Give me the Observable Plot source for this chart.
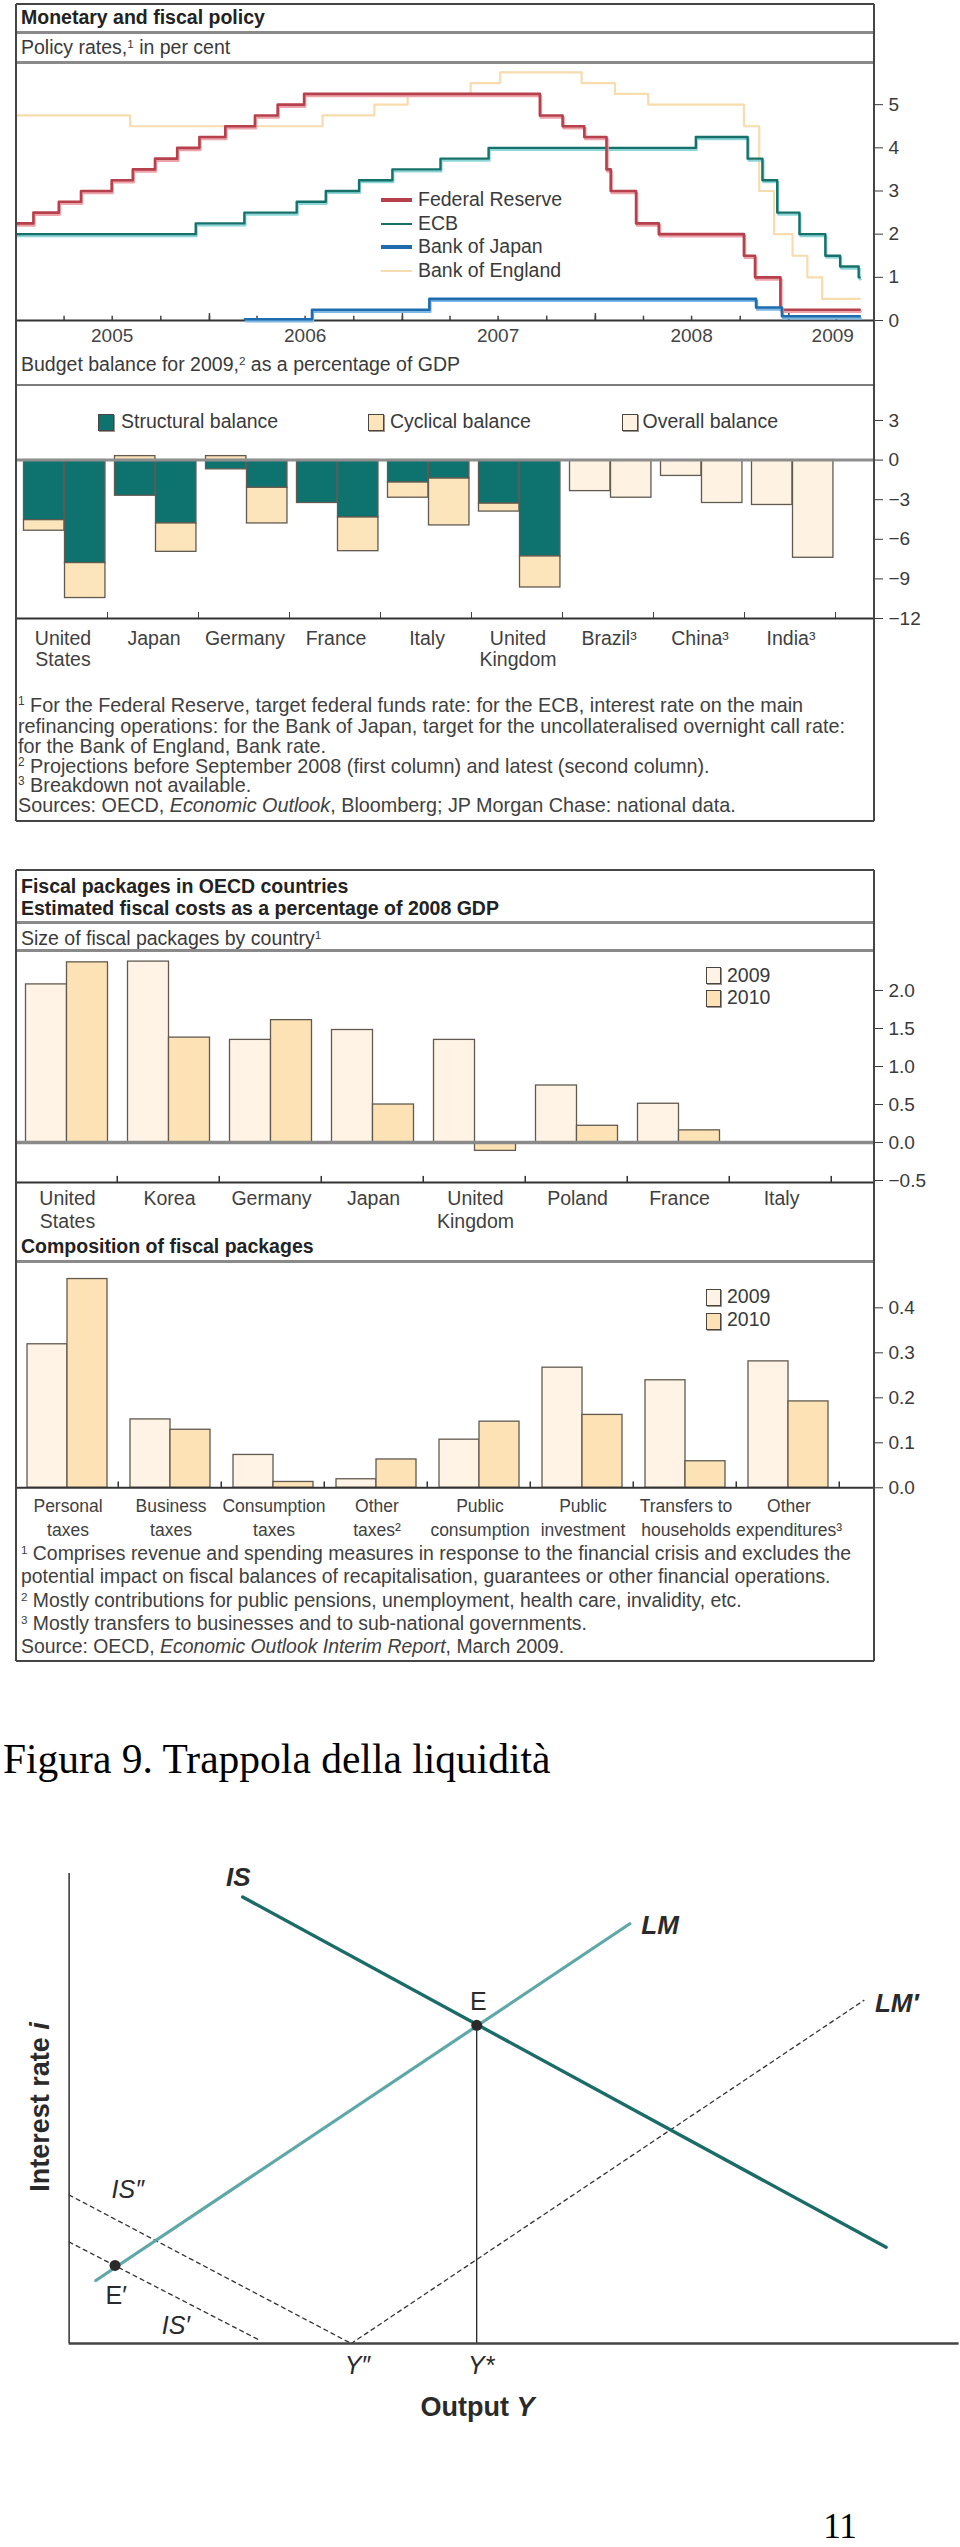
<!DOCTYPE html>
<html><head><meta charset="utf-8">
<script src="https://cdn.jsdelivr.net/npm/d3@7"></script>
<script src="https://cdn.jsdelivr.net/npm/@observablehq/plot@0.6"></script>
<style>
body{margin:0;background:#fff;}
#root{position:relative;width:960px;height:2547px;overflow:hidden;font-family:"Liberation Sans",Arial,sans-serif;color:#3a3a3a;}
.abs{position:absolute;white-space:nowrap;}
.ln{position:absolute;}
</style></head><body><div id="root"></div>
<script>
// ================= DATA =================
// Policy rates (step changes), per cent
const fedDates = ["2005-01-01","2005-02-02","2005-03-22","2005-05-03","2005-06-30","2005-08-09","2005-09-20","2005-11-01","2005-12-13","2006-01-31","2006-03-28","2006-05-10","2006-06-29","2007-09-18","2007-10-31","2007-12-11","2008-01-22","2008-01-30","2008-03-18","2008-04-30","2008-10-08","2008-10-29","2008-12-16"];
const fedRates = [2.25,2.5,2.75,3,3.25,3.5,3.75,4,4.25,4.5,4.75,5,5.25,4.75,4.5,4.25,3.5,3,2.25,2,1.5,1,0.25];
const ecbDates = ["2005-01-01","2005-12-06","2006-03-08","2006-06-15","2006-08-09","2006-10-11","2006-12-13","2007-03-14","2007-06-13","2008-07-09","2008-10-15","2008-11-12","2008-12-10","2009-01-21","2009-03-11","2009-04-08","2009-05-13"];
const ecbRates = [2,2.25,2.5,2.75,3,3.25,3.5,3.75,4,4.25,3.75,3.25,2.5,2,1.5,1.25,1];
const bojDates = ["2006-03-09","2006-07-14","2007-02-21","2008-10-31","2008-12-19"];
const bojRates = [0.03,0.25,0.5,0.3,0.1];
const boeDates = ["2005-01-01","2005-08-04","2006-08-03","2006-11-09","2007-01-11","2007-05-10","2007-07-05","2007-12-06","2008-02-07","2008-04-10","2008-10-08","2008-11-06","2008-12-04","2009-01-08","2009-02-05","2009-03-05"];
const boeRates = [4.75,4.5,4.75,5,5.25,5.5,5.75,5.5,5.25,5,4.5,3,2,1.5,1,0.5];
const seriesEnd = "2009-05-15";
const rateNames = ["Federal Reserve","ECB","Bank of Japan","Bank of England"];
const yearLabels = ["2005","2006","2007","2008","2009"];
const yearLabelDates = ["2005-07-01","2006-07-01","2007-07-01","2008-07-01","2009-03-25"];
const rateTicks = [0,1,2,3,4,5];

// Budget balance for 2009, % of GDP (first column / second column)
const bbCountries = ["United\nStates","Japan","Germany","France","Italy","United\nKingdom","Brazil³","China³","India³"];
const bbTypes = ["Structural balance","Cyclical balance","Overall balance"];
const structural1 = [-4.55,-2.7,-0.7,-3.25,-1.7,-3.3,null,null,null];
const cyclical1   = [-0.8,0.3,0.3,0,-1.15,-0.6,null,null,null];
const overall1    = [null,null,null,null,null,null,-2.35,-1.2,-3.4];
const structural2 = [-7.8,-4.8,-2.1,-4.35,-1.4,-7.3,null,null,null];
const cyclical2   = [-2.65,-2.15,-2.7,-2.55,-3.55,-2.35,null,null,null];
const overall2    = [null,null,null,null,null,null,-2.85,-3.25,-7.4];
const bbTicks = [3,0,-3,-6,-9,-12];

// Fiscal packages by country, % of 2008 GDP
const fpCountries = ["United\nStates","Korea","Germany","Japan","United\nKingdom","Poland","France","Italy"];
const fp2009 = [2.08,2.38,1.35,1.48,1.35,0.75,0.51,0];
const fp2010 = [2.37,1.38,1.61,0.5,-0.11,0.22,0.16,0];
const fpTicks = [-0.5,0,0.5,1,1.5,2];

// Composition of fiscal packages
const compCategories = ["Personal\ntaxes","Business\ntaxes","Consumption\ntaxes","Other\ntaxes²","Public\nconsumption","Public\ninvestment","Transfers to\nhouseholds","Other\nexpenditures³"];
const comp2009 = [0.319,0.152,0.073,0.019,0.107,0.267,0.239,0.281];
const comp2010 = [0.464,0.129,0.013,0.063,0.147,0.162,0.059,0.192];
const compTicks = [0,0.1,0.2,0.3,0.4];
const yearKeys = ["2009","2010"];

// IS-LM schematic (output 0-100, interest rate 0-100)
const isX = [19.5,91.8], isY = [95.0,20.5];
const lmX = [3.0,63.0], lmY = [13.4,89.3];
const lmPX = [31.7,89.3], lmPY = [0,73.0];
const is2X = [0,31.7], is2Y = [31.6,0];
const is1X = [0,21.5], is1Y = [21.6,0.6];
const eqNames = ["E","E′"], eqX = [45.8,5.16], eqY = [67.7,16.6];
const curveNames = ["IS","LM","LM′"], curveLX = [19.0,66.4,93.0], curveLY = [99.2,88.9,72.3];
const shiftNames = ["IS″","IS′"], shiftLX = [6.6,12.0], shiftLY = [32.6,3.8];
const pointNames = ["E","E′"], pointLX = [45.97,5.3], pointLY = [72.6,10.2];
const outNames = ["Y″","Y*"], outLX = [32.4,46.3];

// ================= HELPERS =================
const root = document.getElementById("root");
const parseDate = d3.utcParse("%Y-%m-%d");
const FONT = "'Liberation Sans', Arial, sans-serif";
const baseStyle = {background:"transparent", fontFamily: FONT, fontSize:"19px", color:"#3a3a3a", overflow:"visible"};

function addText(html, x, cy, o = {}) {
  const d = document.createElement("div");
  d.className = "abs";
  d.innerHTML = html;
  const s = d.style;
  s.left = x + "px"; s.top = cy + "px";
  s.fontSize = (o.size || 19.5) + "px";
  s.lineHeight = "1";
  s.fontWeight = o.weight || 400;
  s.color = o.color || "#3a3a3a";
  if (o.family) s.fontFamily = o.family;
  if (o.italic) s.fontStyle = "italic";
  const tx = o.anchor === "middle" ? "-50%" : o.anchor === "end" ? "-100%" : "0";
  s.transform = `translate(${tx},-50%)` + (o.rotate ? ` rotate(${o.rotate}deg)` : "");
  root.appendChild(d);
}
function box(x, y, w, h, css) {
  const d = document.createElement("div");
  d.className = "ln";
  d.style.left = x + "px"; d.style.top = y + "px";
  d.style.width = w + "px"; d.style.height = h + "px";
  Object.assign(d.style, css);
  root.appendChild(d);
}
const hLine = (y, x1, x2, w, c) => box(x1, y - w/2, x2 - x1, w, {background: c});
const vLine = (x, y1, y2, w, c) => box(x - w/2, y1, w, y2 - y1, {background: c});
function place(svg, top) {
  svg.style.position = "absolute"; svg.style.left = "0px"; svg.style.top = top + "px";
  root.appendChild(svg);
}
const SUP = "<span style='font-size:60%;position:relative;top:-0.55em'>";

// ================= PANEL A: policy rates =================
const rowsOf = (dates, rates) => dates.map((d, i) => ({date: parseDate(d), rate: rates[i]}))
  .concat([{date: parseDate(seriesEnd), rate: rates[rates.length - 1]}]);
const fedRows = rowsOf(fedDates, fedRates), ecbRows = rowsOf(ecbDates, ecbRates);
const bojRows = rowsOf(bojDates, bojRates), boeRows = rowsOf(boeDates, boeRates);
const quarterTicks = d3.utcMonth.every(3).range(parseDate("2005-04-01"), parseDate("2009-04-02"));
const yearTicks = d3.utcYear.range(parseDate("2006-01-01"), parseDate("2009-01-02"));
const stepOpts = {x: "date", y: "rate", curve: "step-after"};

const plotA = Plot.plot({
  width: 960, height: 350, marginLeft: 16, marginRight: 86, marginTop: 61, marginBottom: 30,
  style: baseStyle,
  x: {type: "utc", domain: [parseDate("2005-01-01"), parseDate("2009-06-12")], axis: null},
  y: {domain: [0, 6], axis: "right", ticks: rateTicks, tickSize: 8, tickPadding: 6, label: null, tickFormat: d3.format("d")},
  marks: [
    Plot.ruleX(quarterTicks, {x: d => d, y1: 0, y2: 0.1, stroke: "#444", strokeWidth: 1.5}),
    Plot.ruleX(yearTicks, {x: d => d, y1: 0, y2: 0.16, stroke: "#444", strokeWidth: 1.5}),
    Plot.line(boeRows, {...stepOpts, stroke: "#f8dcae", strokeWidth: 2.2}),
    Plot.line(ecbRows, {...stepOpts, stroke: "#8dd6d8", strokeWidth: 2.2, dx: 1, dy: 2}),
    Plot.line(ecbRows, {...stepOpts, stroke: "#17716b", strokeWidth: 2.4}),
    Plot.line(fedRows, {...stepOpts, stroke: "#eca3aa", strokeWidth: 2.6, dx: 1, dy: 2}),
    Plot.line(fedRows, {...stepOpts, stroke: "#b6404c", strokeWidth: 2.6}),
    Plot.ruleY([0], {stroke: "#333", strokeWidth: 2}),
    Plot.line(bojRows, {...stepOpts, stroke: "#7db8e4", strokeWidth: 2.4, dx: 1, dy: 2}),
    Plot.line(bojRows, {...stepOpts, stroke: "#1e6cae", strokeWidth: 2.6}),
    Plot.text(yearLabels, {x: (d, i) => parseDate(yearLabelDates[i]), y: 0, dy: 15, text: d => d, fontSize: 19, fill: "#444"})
  ]
});
place(plotA, 0);

// legend A
const legA = [
  {c: "#b6404c", w: 4.5}, {c: "#17716b", w: 2.2},
  {c: "#1e6cae", w: 4.5}, {c: "#f8dcae", w: 2.2}
];
[200, 224, 247, 271].forEach((cy, i) => {
  hLine(cy, 381, 412, legA[i].w, legA[i].c);
  addText(rateNames[i], 418, cy, {size: 19.5, color: "#3a3a3a"});
});

// ================= PANEL B: budget balance =================
const bbRows = [];
bbCountries.forEach((c, i) => {
  [[1, structural1, cyclical1, overall1], [2, structural2, cyclical2, overall2]].forEach(([col, s, cy, ov]) => {
    if (s[i] != null) bbRows.push({country: c, col, type: bbTypes[0], value: s[i]});
    if (cy[i] != null && cy[i] !== 0) bbRows.push({country: c, col, type: bbTypes[1], value: cy[i]});
    if (ov[i] != null) bbRows.push({country: c, col, type: bbTypes[2], value: ov[i]});
  });
});
const bbColors = ["#0e736e", "#fde5bb", "#fef3e3"];
const bbBand = (838 - 14) / bbCountries.length;
const plotB = Plot.plot({
  width: 960, height: 300, marginLeft: 16, marginRight: 86, marginTop: 15, marginBottom: 52,
  style: baseStyle,
  x: {type: "band", domain: bbCountries, range: [14, 838], padding: 0, axis: null},
  y: {domain: [-12, 5.65], axis: "right", ticks: bbTicks, tickSize: 8, tickPadding: 6, label: null, tickFormat: d3.format("d")},
  color: {domain: bbTypes, range: bbColors},
  marks: [
    Plot.barY(bbRows.filter(d => d.col === 1), {x: "country", y: "value", fill: "type", stroke: "#615a51", strokeWidth: 1.3, insetLeft: 6.5, insetRight: bbBand - 47.5}),
    Plot.barY(bbRows.filter(d => d.col === 2), {x: "country", y: "value", fill: "type", stroke: "#615a51", strokeWidth: 1.3, insetLeft: 47.5, insetRight: bbBand - 88.5}),
    Plot.ruleY([0], {stroke: "#8e8e8e", strokeWidth: 3}),
    Plot.ruleY([-12], {stroke: "#333", strokeWidth: 2}),
    Plot.barY(bbCountries, {x: d => d, y1: -12, y2: -11.55, insetLeft: bbBand - 1.5, fill: "#333"}),
    Plot.text(bbCountries, {x: d => d, y: -12, dy: 11, text: d => d, lineAnchor: "top", lineHeight: 1.1, fontSize: 19.5, fill: "#3f3f3f"})
  ]
});
place(plotB, 370);

// legend B
[[98, 121], [367.5, 390], [622, 642.5]].forEach(([sx, tx], i) => {
  box(sx, 414, 14, 15, {background: bbColors[i], border: "1px solid #4a4540", boxShadow: "1px 1px 0 #9a948c"});
  addText(bbTypes[i], tx, 422, {size: 19.5});
});

// ================= PANEL C: fiscal packages by country =================
const fpRows = fpCountries.flatMap((c, i) => [
  {country: c, year: yearKeys[0], value: fp2009[i]},
  {country: c, year: yearKeys[1], value: fp2010[i]}
]);
const yearColors = ["#fef3e4", "#fde2b5"];
const fpBand = (832 - 16) / fpCountries.length;
const fpMin = -0.526;
const plotC = Plot.plot({
  width: 960, height: 300, marginLeft: 16, marginRight: 86, marginTop: 10, marginBottom: 58,
  style: baseStyle,
  x: {type: "band", domain: fpCountries, range: [16, 832], padding: 0, axis: null},
  y: {domain: [fpMin, 2.526], axis: "right", ticks: fpTicks, tickSize: 8, tickPadding: 6, label: null, tickFormat: d3.format(".1f")},
  marks: [
    Plot.barY(fpRows.filter(d => d.year === yearKeys[0]), {x: "country", y: "value", fill: yearColors[0], stroke: "#615a51", strokeWidth: 1.3, insetLeft: 9.5, insetRight: fpBand - 50.5}),
    Plot.barY(fpRows.filter(d => d.year === yearKeys[1]), {x: "country", y: "value", fill: yearColors[1], stroke: "#615a51", strokeWidth: 1.3, insetLeft: 50.5, insetRight: 10.5}),
    Plot.ruleY([0], {stroke: "#8a8a8a", strokeWidth: 3.5}),
    Plot.ruleY([fpMin], {stroke: "#333", strokeWidth: 2}),
    Plot.barY(fpCountries, {x: d => d, y1: fpMin, y2: fpMin + 0.08, insetLeft: fpBand - 1.5, fill: "#333"}),
    Plot.text(fpCountries, {x: d => d, y: fpMin, dy: 6, text: d => d, lineAnchor: "top", lineHeight: 1.18, fontSize: 19.5, fill: "#3f3f3f"})
  ]
});
place(plotC, 940);

// ================= PANEL D: composition =================
const compRows = compCategories.flatMap((c, i) => [
  {cat: c, year: yearKeys[0], value: comp2009[i]},
  {cat: c, year: yearKeys[1], value: comp2010[i]}
]);
const compBand = (840 - 16) / compCategories.length;
const plotD = Plot.plot({
  width: 960, height: 290, marginLeft: 16, marginRight: 86, marginTop: 11, marginBottom: 52.7,
  style: baseStyle,
  x: {type: "band", domain: compCategories, range: [16, 840], padding: 0, axis: null},
  y: {domain: [0, 0.503], axis: "right", ticks: compTicks, tickSize: 8, tickPadding: 6, label: null, tickFormat: d3.format(".1f")},
  marks: [
    Plot.barY(compRows.filter(d => d.year === yearKeys[0]), {x: "cat", y: "value", fill: yearColors[0], stroke: "#615a51", strokeWidth: 1.3, insetLeft: 11, insetRight: compBand - 51}),
    Plot.barY(compRows.filter(d => d.year === yearKeys[1]), {x: "cat", y: "value", fill: yearColors[1], stroke: "#615a51", strokeWidth: 1.3, insetLeft: 51, insetRight: 12}),
    Plot.ruleY([0], {stroke: "#333", strokeWidth: 2}),
    Plot.barY(compCategories, {x: d => d, y1: 0, y2: 0.013, insetLeft: compBand - 1.5, fill: "#333"}),
    Plot.text(compCategories, {x: d => d, y: 0, dy: 8, text: d => d, lineAnchor: "top", lineHeight: 1.34, fontSize: 17.5, fill: "#3f3f3f"})
  ]
});
place(plotD, 1250);

// legends C & D
[[967, 990, 976, 998], [1289, 1313, 1297, 1320]].forEach(([s1, s2, t1, t2]) => {
  box(706, s1, 13, 15, {background: yearColors[0], border: "1px solid #4a4540", boxShadow: "1px 1px 0 #9a948c"});
  box(706, s2, 13, 15, {background: yearColors[1], border: "1px solid #4a4540", boxShadow: "1px 1px 0 #9a948c"});
  addText(yearKeys[0], 727, t1, {size: 19.5});
  addText(yearKeys[1], 727, t2, {size: 19.5});
});

// ================= FRAMES & TEXT (OECD panels) =================
const frameC = "#454545", sepC = "#8a8a8a";
hLine(4, 16, 874, 1.6, frameC);
hLine(32, 16, 874, 3, sepC);
hLine(62, 16, 874, 3, sepC);
hLine(385, 16, 874, 2.6, "#7c7c7c");
hLine(821, 16, 874, 1.6, frameC);
vLine(16, 4, 821, 1.8, frameC);
vLine(874, 4, 821, 1.8, frameC);

hLine(870, 16, 874, 1.6, frameC);
hLine(922.7, 16, 874, 3, sepC);
hLine(950, 16, 874, 3, sepC);
hLine(1261, 16, 874, 3, sepC);
hLine(1661, 16, 874, 1.6, frameC);
vLine(16, 870, 1661, 1.8, frameC);
vLine(874, 870, 1661, 1.8, frameC);

addText("Monetary and fiscal policy", 21, 18, {size: 19.5, weight: 700, color: "#222"});
addText("Policy rates," + SUP + "1</span> in per cent", 21, 48, {size: 19.5});
addText("Budget balance for 2009," + SUP + "2</span> as a percentage of GDP", 21, 365, {size: 19.5});

const fnB = [
  SUP + "1</span> For the Federal Reserve, target federal funds rate: for the ECB, interest rate on the main",
  "refinancing operations: for the Bank of Japan, target for the uncollateralised overnight call rate:",
  "for the Bank of England, Bank rate.",
  SUP + "2</span> Projections before September 2008 (first column) and latest (second column).",
  SUP + "3</span> Breakdown not available.",
  "Sources: OECD, <i>Economic Outlook</i>, Bloomberg; JP Morgan Chase: national data."
];
[706, 727, 747, 767, 786, 806].forEach((cy, i) => addText(fnB[i], 18, cy, {size: 19.8, color: "#404040"}));

addText("Fiscal packages in OECD countries", 21, 887, {size: 19.5, weight: 700, color: "#222"});
addText("Estimated fiscal costs as a percentage of 2008 GDP", 21, 909, {size: 19.5, weight: 700, color: "#222"});
addText("Size of fiscal packages by country" + SUP + "1</span>", 21, 939, {size: 19.5});
addText("Composition of fiscal packages", 21, 1247, {size: 19.5, weight: 700, color: "#222"});

const fnD = [
  SUP + "1</span> Comprises revenue and spending measures in response to the financial crisis and excludes the",
  "potential impact on fiscal balances of recapitalisation, guarantees or other financial operations.",
  SUP + "2</span> Mostly contributions for public pensions, unemployment, health care, invalidity, etc.",
  SUP + "3</span> Mostly transfers to businesses and to sub-national governments.",
  "Source: OECD, <i>Economic Outlook Interim Report</i>, March 2009."
];
[1554, 1577, 1601, 1624, 1647].forEach((cy, i) => addText(fnD[i], 21, cy, {size: 19.4, color: "#404040"}));

// ================= PANEL E: IS-LM liquidity trap =================
const pts = (xs, ys) => xs.map((x, i) => ({x, y: ys[i]}));
const dashOpts = {x: "x", y: "y", stroke: "#333", strokeWidth: 1.3, strokeDasharray: "4,4"};
const plotE = Plot.plot({
  width: 960, height: 757, marginLeft: 68.6, marginRight: 1.4, marginTop: 83, marginBottom: 204,
  style: {...baseStyle, fontSize: "24px"},
  x: {domain: [0, 100], axis: null},
  y: {domain: [0, 100], axis: null},
  marks: [
    Plot.ruleX([0], {y1: 0, y2: 100, stroke: "#111", strokeWidth: 1.3}),
    Plot.ruleX([eqX[0]], {y1: 0, y2: eqY[0], stroke: "#111", strokeWidth: 1.2}),
    Plot.line(pts(lmPX, lmPY), dashOpts),
    Plot.line(pts(is2X, is2Y), dashOpts),
    Plot.line(pts(is1X, is1Y), dashOpts),
    Plot.line(pts(lmX, lmY), {x: "x", y: "y", stroke: "#5fa8a7", strokeWidth: 3.2}),
    Plot.line(pts(isX, isY), {x: "x", y: "y", stroke: "#1b6c68", strokeWidth: 3.4}),
    Plot.ruleY([0], {stroke: "#444", strokeWidth: 2.4}),
    Plot.dot(eqNames, {x: (d, i) => eqX[i], y: (d, i) => eqY[i], r: 5.5, fill: "#2a2a2a"}),
    Plot.text(curveNames, {x: (d, i) => curveLX[i], y: (d, i) => curveLY[i], text: d => d, fontSize: 26, fontWeight: 700, fontStyle: "italic", fill: "#2a2a2a"}),
    Plot.text(shiftNames, {x: (d, i) => shiftLX[i], y: (d, i) => shiftLY[i], text: d => d, fontSize: 25, fontStyle: "italic", fill: "#2a2a2a"}),
    Plot.text(pointNames, {x: (d, i) => pointLX[i], y: (d, i) => pointLY[i], text: d => d, fontSize: 25, fill: "#2a2a2a"}),
    Plot.text(outNames, {x: (d, i) => outLX[i], y: 0, dy: 22, text: d => d, fontSize: 25, fontStyle: "italic", fill: "#2a2a2a"})
  ]
});
place(plotE, 1790);

addText("Figura 9. Trappola della liquidità", 3, 1760, {size: 41.5, family: "'Liberation Serif','Times New Roman',serif", color: "#000"});
addText("<b>Output <i>Y</i></b>", 477.6, 2407, {size: 27, anchor: "middle", color: "#2a2a2a"});
addText("<b>Interest rate <i>i</i></b>", 40, 2107, {size: 27, anchor: "middle", rotate: -90, color: "#2a2a2a"});
addText("11", 840, 2526, {size: 35, anchor: "middle", family: "'Liberation Serif','Times New Roman',serif", color: "#000"});
</script>
</body></html>
